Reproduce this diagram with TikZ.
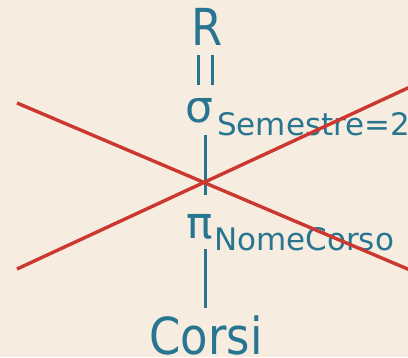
\documentclass[tikz,border=0pt]{standalone}
\usepackage{fontspec}
\setmainfont{DejaVu Sans}
\newfontfamily\narrowsans[FakeStretch=0.88]{DejaVu Sans}
\usetikzlibrary{calc, positioning}
\definecolor{paper}{RGB}{246,237,224}
\definecolor{relblue}{RGB}{40,117,145}
\definecolor{crossred}{RGB}{204,55,48}

\begin{document}
\begin{tikzpicture}[x=1pt, y=-1pt,
  rel/.style={text=relblue, inner sep=0pt, anchor=base, font=\narrowsans\fontsize{51}{51}\selectfont},
  op/.style={text=relblue, inner sep=0pt, anchor=base, font=\fontsize{44}{44}\selectfont},
  cond/.style={text=relblue, inner sep=0pt, anchor=base west, font=\fontsize{31}{31}\selectfont},
  link/.style={draw=relblue, line width=2.6pt},
  cross/.style={draw=crossred, line width=3.4pt}]
  \fill[paper] (0,0) rectangle (408,357);
  \useasboundingbox (0,0) rectangle (408,357);
  \coordinate (axis) at (205.5,0);
  % query tree
  \node[rel] (R) at (207,45) {R};
  \node[op] (sig) at (199.5,122) {σ};
  \node[cond] (sigcond) at (217,135) {Semestre=2};
  \node[op] (pi) at (199.5,238) {π};
  \node[cond] (picond) at (214,250) {NomeCorso};
  \node[rel] (Corsi) at (206,354) {Corsi};
  \draw[link, double=paper, double distance=11.4pt] ($(R.base -| axis)+(0,10)$) -- ($(sig.base -| axis)+(0,-37)$);
  \draw[link] ($(sig.base -| axis)+(0,13)$) -- ($(pi.base -| axis)+(0,-43)$);
  \draw[link] ($(pi.base -| axis)+(0,11)$) -- ($(Corsi.base -| axis)+(0,-46)$);
  % crossed out
  \draw[cross] (17,103) -- (410,270);
  \draw[cross] (17,269) -- (410,87);
\end{tikzpicture}
\end{document}
